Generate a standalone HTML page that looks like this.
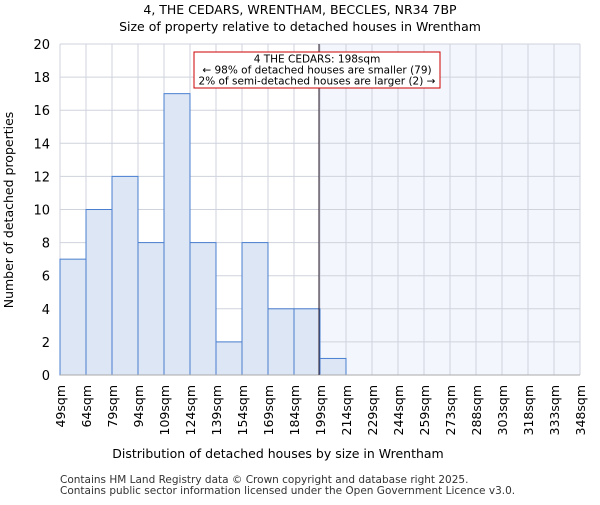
<!DOCTYPE html>
<html><head><meta charset="utf-8"><style>
body{margin:0;background:#fff;font-family:"Liberation Sans","DejaVu Sans",sans-serif}
svg text{font-family:"DejaVu Sans","Liberation Sans",sans-serif}
</style></head><body>
<svg id="c" width="600" height="500" xmlns="http://www.w3.org/2000/svg">
<text x="300" y="14" text-anchor="middle" font-size="12.5">4, THE CEDARS, WRENTHAM, BECCLES, NR34 7BP</text>
<text x="300" y="31" text-anchor="middle" font-size="12.5">Size of property relative to detached houses in Wrentham</text>
<g id="plot"></g>
<text x="278" y="458" text-anchor="middle" font-size="12.5">Distribution of detached houses by size in Wrentham</text>
<text transform="translate(13,210) rotate(-90)" text-anchor="middle" font-size="12.5">Number of detached properties</text>
<text x="60" y="483" font-size="10.5" fill="#333">Contains HM Land Registry data © Crown copyright and database right 2025.</text>
<text x="60" y="494" font-size="10.5" fill="#333">Contains public sector information licensed under the Open Government Licence v3.0.</text>
</svg>
<script>
const binLabels=["49sqm","64sqm","79sqm","94sqm","109sqm","124sqm","139sqm","154sqm","169sqm","184sqm","199sqm","214sqm","229sqm","244sqm","259sqm","273sqm","288sqm","303sqm","318sqm","333sqm","348sqm"];
const counts=[7,10,12,8,17,8,2,8,4,4,1,0,0,0,0,0,0,0,0,0];
const yTicks=[0,2,4,6,8,10,12,14,16,18,20];
const markerIndex=10;
const NS="http://www.w3.org/2000/svg";
const X0=60,X1=580,Y0=375,Y1=44,YMAX=20;
const bw=(X1-X0)/counts.length;
const xs=i=>X0+i*bw;
const ys=v=>Y0-(v/YMAX)*(Y0-Y1);
const g=document.getElementById('plot');
function mk(t,a){const e=document.createElementNS(NS,t);for(const k in a)e.setAttribute(k,a[k]);g.appendChild(e);return e;}
const hl=mk('rect',{x:xs(markerIndex),y:Y1,width:X1-xs(markerIndex),height:Y0-Y1,fill:'#f3f6fc'});


yTicks.forEach(v=>{
 const l=mk('line',{x1:X0,x2:X1,y1:ys(v),y2:ys(v),stroke:'#cfd3dc','stroke-width':1});
 
 
 const t=mk('text',{x:X0-10,y:ys(v)+5,'text-anchor':'end','font-size':13});
 t.textContent=v;
 
 
});
binLabels.forEach((s,i)=>{
 const l=mk('line',{x1:xs(i),x2:xs(i),y1:Y1,y2:Y0,stroke:'#cfd3dc','stroke-width':1});
 
 
 const t=mk('text',{transform:`translate(${xs(i)+5},385) rotate(-90)`,'text-anchor':'end','font-size':12.5});
 t.textContent=s;
 
 
});
counts.forEach((v,i)=>{
 if(v<=0)return;
 const r=mk('rect',{x:xs(i),y:ys(v),width:bw,height:Y0-ys(v),fill:'#dce6f4',stroke:'#4a7fd0','stroke-width':1});
 
 
});
const ax=mk('line',{x1:X0,x2:X1,y1:Y0,y2:Y0,stroke:'#aaa'});


const ml=mk('line',{x1:xs(markerIndex)-1,x2:xs(markerIndex)-1,y1:Y1,y2:Y0,stroke:'#2a1a2a','stroke-width':1});


const box=mk('rect',{x:194,y:52,width:246,height:36,fill:'#fff',stroke:'#c00','stroke-width':1});


["4 THE CEDARS: 198sqm","← 98% of detached houses are smaller (79)","2% of semi-detached houses are larger (2) →"].forEach((s,i)=>{
 const t=mk('text',{x:317,y:62.5+i*11,'text-anchor':'middle','font-size':10.5});
 t.textContent=s;
 
 
});
</script>
</body></html>
